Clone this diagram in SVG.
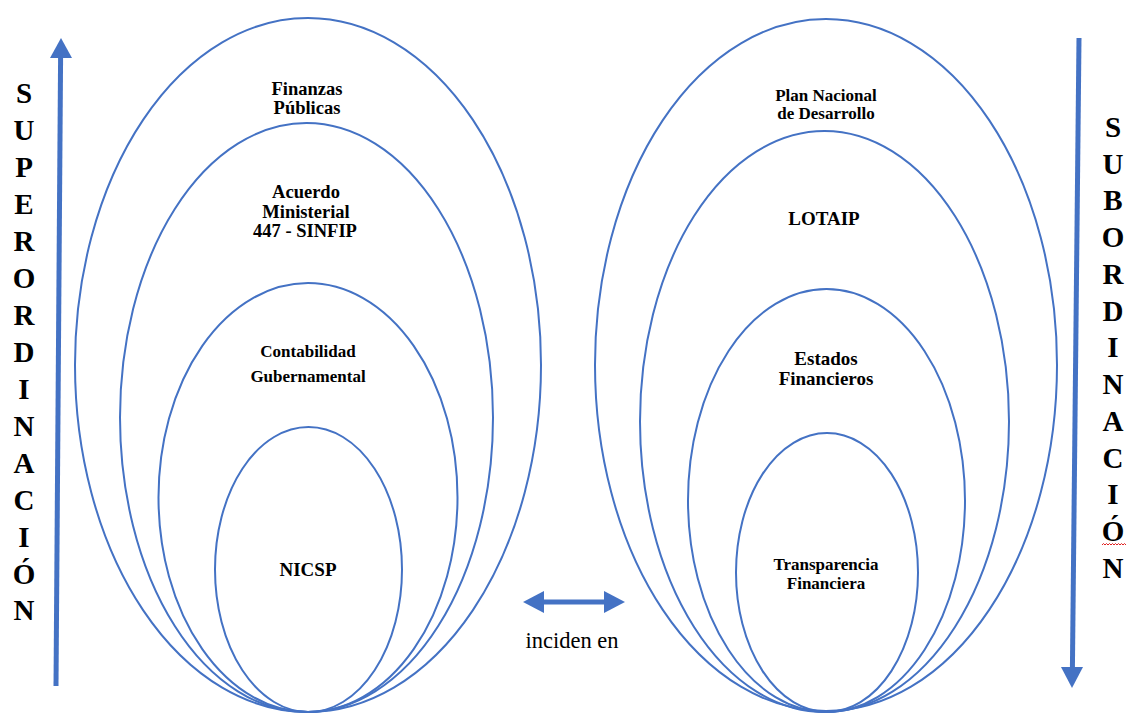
<svg xmlns="http://www.w3.org/2000/svg" width="1132" height="713" viewBox="0 0 1132 713">
<style>
.ring{fill:none;stroke:#4472C4;stroke-width:2}
.lbl{font-family:"Liberation Serif","Times New Roman",serif;font-weight:bold;text-anchor:middle;fill:#000}
.vert{font-family:"Liberation Serif","Times New Roman",serif;font-weight:bold;font-size:29px;text-anchor:middle;fill:#000}
.axis{stroke:#4472C4;stroke-width:5;fill:none}
.head{fill:#4472C4}
</style>
<rect width="1132" height="713" fill="#fff"/>
<g id="left-group">
<g id="finanzas-publicas">
<ellipse class="ring" cx="308" cy="365" rx="233" ry="347"/>
<text class="lbl" font-size="18.5" x="307" y="95">Finanzas</text>
<text class="lbl" font-size="18.5" x="307" y="113.5">Públicas</text>
</g>
<g id="acuerdo-ministerial">
<ellipse class="ring" cx="306.5" cy="417.5" rx="186.5" ry="294.5"/>
<text class="lbl" font-size="18.5" x="306" y="198">Acuerdo</text>
<text class="lbl" font-size="18.5" x="306" y="217.5">Ministerial</text>
<text class="lbl" font-size="18.5" x="305" y="237">447 - SINFIP</text>
</g>
<g id="contabilidad-gubernamental">
<ellipse class="ring" cx="308" cy="497.5" rx="149.5" ry="214.5"/>
<text class="lbl" font-size="17" x="308" y="357">Contabilidad</text>
<text class="lbl" font-size="17" x="308" y="382">Gubernamental</text>
</g>
<g id="nicsp">
<ellipse class="ring" cx="308.5" cy="569.5" rx="93.5" ry="142.5"/>
<text class="lbl" font-size="19" x="308" y="576">NICSP</text>
</g>
</g>
<g id="right-group">
<g id="plan-nacional">
<ellipse class="ring" cx="826" cy="365" rx="231" ry="346"/>
<text class="lbl" font-size="17" x="826" y="101">Plan Nacional</text>
<text class="lbl" font-size="17" x="826" y="118.5">de Desarrollo</text>
</g>
<g id="lotaip">
<ellipse class="ring" cx="824.5" cy="421.5" rx="184.5" ry="290.5"/>
<text class="lbl" font-size="19" x="824" y="225">LOTAIP</text>
</g>
<g id="estados-financieros">
<ellipse class="ring" cx="826.5" cy="500.5" rx="138.5" ry="211.5"/>
<text class="lbl" font-size="19" x="826" y="365">Estados</text>
<text class="lbl" font-size="19" x="826" y="385">Financieros</text>
</g>
<g id="transparencia-financiera">
<ellipse class="ring" cx="827" cy="572.5" rx="91" ry="139.5"/>
<text class="lbl" font-size="17" x="826" y="570">Transparencia</text>
<text class="lbl" font-size="17" x="826" y="589">Financiera</text>
</g>
</g>
<g id="connectors">
<line class="axis" x1="56" y1="686" x2="60.6" y2="56"/>
<polygon class="head" points="61,38 50,58 72,58"/>
<line class="axis" x1="1079" y1="38" x2="1072.4" y2="669"/>
<polygon class="head" points="1072,688 1061,667 1083,667"/>
<line class="axis" x1="540" y1="602" x2="608" y2="602"/>
<polygon class="head" points="523,602 544,591 544,613"/>
<polygon class="head" points="625,602 604,591 604,613"/>
<text x="572" y="648" font-family="Liberation Serif, Times New Roman, serif" font-size="22.5" text-anchor="middle" fill="#000">inciden en</text>
</g>
<g id="superordinacion">
<text class="vert" x="24" y="103">S</text>
<text class="vert" x="24" y="140">U</text>
<text class="vert" x="24" y="177">P</text>
<text class="vert" x="24" y="214">E</text>
<text class="vert" x="24" y="251">R</text>
<text class="vert" x="24" y="288">O</text>
<text class="vert" x="24" y="325">R</text>
<text class="vert" x="24" y="362">D</text>
<text class="vert" x="24" y="399">I</text>
<text class="vert" x="24" y="436">N</text>
<text class="vert" x="24" y="473">A</text>
<text class="vert" x="24" y="510">C</text>
<text class="vert" x="24" y="547">I</text>
<text class="vert" x="24" y="584">Ó</text>
<text class="vert" x="24" y="620">N</text>
</g>
<g id="subordinacion">
<text class="vert" x="1113" y="137">S</text>
<text class="vert" x="1113" y="174">U</text>
<text class="vert" x="1113" y="210">B</text>
<text class="vert" x="1113" y="247">O</text>
<text class="vert" x="1113" y="284">R</text>
<text class="vert" x="1113" y="321">D</text>
<text class="vert" x="1113" y="357">I</text>
<text class="vert" x="1113" y="394">N</text>
<text class="vert" x="1113" y="431">A</text>
<text class="vert" x="1113" y="468">C</text>
<text class="vert" x="1113" y="504">I</text>
<text class="vert" x="1113" y="541">Ó</text>
<text class="vert" x="1113" y="578">N</text>
<path d="M1102,545 l1.5,-1.5 l1.5,1.5 l1.5,-1.5 l1.5,1.5 l1.5,-1.5 l1.5,1.5 l1.5,-1.5 l1.5,1.5 l1.5,-1.5 l1.5,1.5 l1.5,-1.5 l1.5,1.5 l1.5,-1.5 l1.5,1.5 l1.5,-1.5 l1.5,1.5" fill="none" stroke="#e02020" stroke-width="1"/>
</g>
</svg>
